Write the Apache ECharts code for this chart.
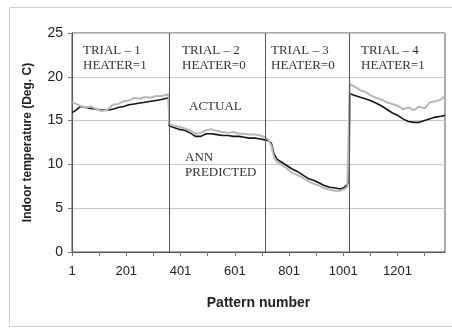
<!DOCTYPE html>
<html>
<head>
<meta charset="utf-8">
<script src="https://cdn.jsdelivr.net/npm/echarts@6/dist/echarts.min.js"></script>
<style>
  html, body { margin: 0; padding: 0; background: #fff; }
  #chart { width: 452px; height: 329px; }
</style>
</head>
<body>
<div id="chart"></div>
<script>
// pattern numbers shared by both series
const patterns = [
  1, 15, 30, 50, 70, 90, 110, 130, 150, 170, 190, 210, 230, 250, 270, 290, 310, 330, 356,
  358, 375, 395, 415, 435, 455, 475, 495, 515, 535, 555, 575, 595, 615, 635, 655, 675, 695, 711,
  713, 725, 735, 745, 755, 770, 790, 810, 830, 850, 870, 890, 910, 930, 950, 970, 990, 1005, 1015, 1021,
  1024, 1040, 1060, 1080, 1100, 1120, 1140, 1160, 1180, 1200, 1220, 1240, 1260, 1280, 1300, 1320, 1340, 1360, 1375
];

const actual = [
  15.9, 16.2, 16.6, 16.5, 16.4, 16.3, 16.2, 16.2, 16.3, 16.5, 16.6, 16.8, 16.9, 17.0, 17.1, 17.2, 17.3, 17.4, 17.6,
  14.4, 14.2, 14.0, 13.9, 13.6, 13.2, 13.2, 13.5, 13.5, 13.4, 13.3, 13.3, 13.2, 13.2, 13.1, 13.0, 13.0, 12.9, 12.8,
  12.8, 12.7, 12.4, 11.2, 10.6, 10.3, 9.9, 9.5, 9.2, 8.8, 8.4, 8.2, 7.9, 7.6, 7.4, 7.3, 7.2, 7.4, 7.7, 8.0,
  18.1, 17.9, 17.7, 17.5, 17.3, 17.0, 16.7, 16.3, 15.9, 15.6, 15.2, 14.9, 14.8, 14.8, 15.0, 15.2, 15.4, 15.5, 15.6
];

const annPredicted = [
  17.1, 16.9, 16.7, 16.5, 16.6, 16.3, 16.1, 16.2, 16.8, 16.9, 17.2, 17.3, 17.6, 17.5, 17.7, 17.6, 17.8, 17.8, 18.0,
  14.6, 14.4, 14.3, 14.1, 13.9, 13.5, 13.6, 13.9, 14.0, 13.8, 13.7, 13.6, 13.7, 13.5, 13.5, 13.4, 13.4, 13.3, 13.1,
  13.0, 12.8, 12.1, 10.8, 10.3, 10.0, 9.6, 9.1, 8.8, 8.5, 8.1, 7.8, 7.6, 7.3, 7.1, 7.0, 7.0, 7.2, 7.4, 7.6,
  19.2, 18.9, 18.5, 18.3, 17.9, 17.6, 17.4, 17.1, 16.9, 16.7, 16.3, 16.5, 16.2, 16.6, 16.4, 17.1, 17.2, 17.4, 17.8
];

const trialBounds = [357, 712, 1023];
const trialLabels = ['TRIAL \u2013 1', 'TRIAL \u2013 2', 'TRIAL \u2013 3', 'TRIAL \u2013 4'];
const heaterLabels = ['HEATER=1', 'HEATER=0', 'HEATER=0', 'HEATER=1'];

const chart = echarts.init(document.getElementById('chart'));

const serif = '"Liberation Serif", "Times New Roman", serif';
const sans = '"Liberation Sans", Arial, sans-serif';

const trialX = [83, 182, 271, 361];
const graphics = [{
  type: 'rect',
  shape: { x: 9.5, y: 7.5, width: 460, height: 319 },
  style: { fill: 'none', stroke: '#cfcfcf', lineWidth: 1 },
  silent: true
}];
trialLabels.forEach((t, i) => {
  graphics.push({
    type: 'text', left: trialX[i], top: 43,
    style: { text: t + '\n' + heaterLabels[i], font: '13px ' + serif, fill: '#333', lineHeight: 15 }
  });
});
graphics.push({
  type: 'text', left: 189, top: 100,
  style: { text: 'ACTUAL', font: '13px ' + serif, fill: '#333' }
});
graphics.push({
  type: 'text', left: 185, top: 150,
  style: { text: 'ANN\nPREDICTED', font: '13px ' + serif, fill: '#333', lineHeight: 15 }
});

chart.setOption({
  animation: false,
  grid: {
    left: 72, top: 33, right: 7, bottom: 77,
    show: true, borderColor: '#555', borderWidth: 1, backgroundColor: 'transparent'
  },
  xAxis: {
    type: 'value',
    min: 0, max: 1375, interval: 100,
    name: 'Pattern number',
    nameLocation: 'middle',
    nameGap: 44,
    nameTextStyle: { fontFamily: sans, fontWeight: 'bold', fontSize: 14, color: '#222' },
    axisLine: { show: true, lineStyle: { color: '#555' } },
    axisTick: { show: true, length: 4, lineStyle: { color: '#777' } },
    axisLabel: {
      fontFamily: sans, fontSize: 13, color: '#222', margin: 13,
      showMaxLabel: false,
      formatter: v => (v % 200 === 0 ? String(v + 1) : '')
    },
    splitLine: { show: false }
  },
  yAxis: {
    type: 'value',
    min: 0, max: 25, interval: 5,
    name: 'Indoor temperature (Deg. C)',
    nameLocation: 'middle',
    nameGap: 38,
    nameTextStyle: { fontFamily: sans, fontWeight: 'bold', fontSize: 12, color: '#222' },
    axisLine: { show: true, lineStyle: { color: '#555' } },
    axisTick: { show: true, length: 4, lineStyle: { color: '#777' } },
    axisLabel: { fontFamily: sans, fontSize: 14, color: '#222', margin: 9 },
    splitLine: { show: true, lineStyle: { color: '#c8c8c8', width: 1 } }
  },
  graphic: graphics,
  series: [
    {
      name: 'Actual',
      type: 'line',
      data: patterns.map((p, i) => [p, actual[i]]),
      showSymbol: false,
      lineStyle: { color: '#151515', width: 1.6 },
      z: 2,
      markLine: {
        silent: true,
        symbol: 'none',
        label: { show: false },
        lineStyle: { color: '#555', width: 1, type: 'solid' },
        data: trialBounds.map(b => ({ xAxis: b }))
      }
    },
    {
      name: 'ANN predicted',
      type: 'line',
      data: patterns.map((p, i) => [p, annPredicted[i]]),
      showSymbol: false,
      lineStyle: { color: '#b8b8b8', width: 2 },
      z: 3
    }
  ]
});
</script>
</body>
</html>
